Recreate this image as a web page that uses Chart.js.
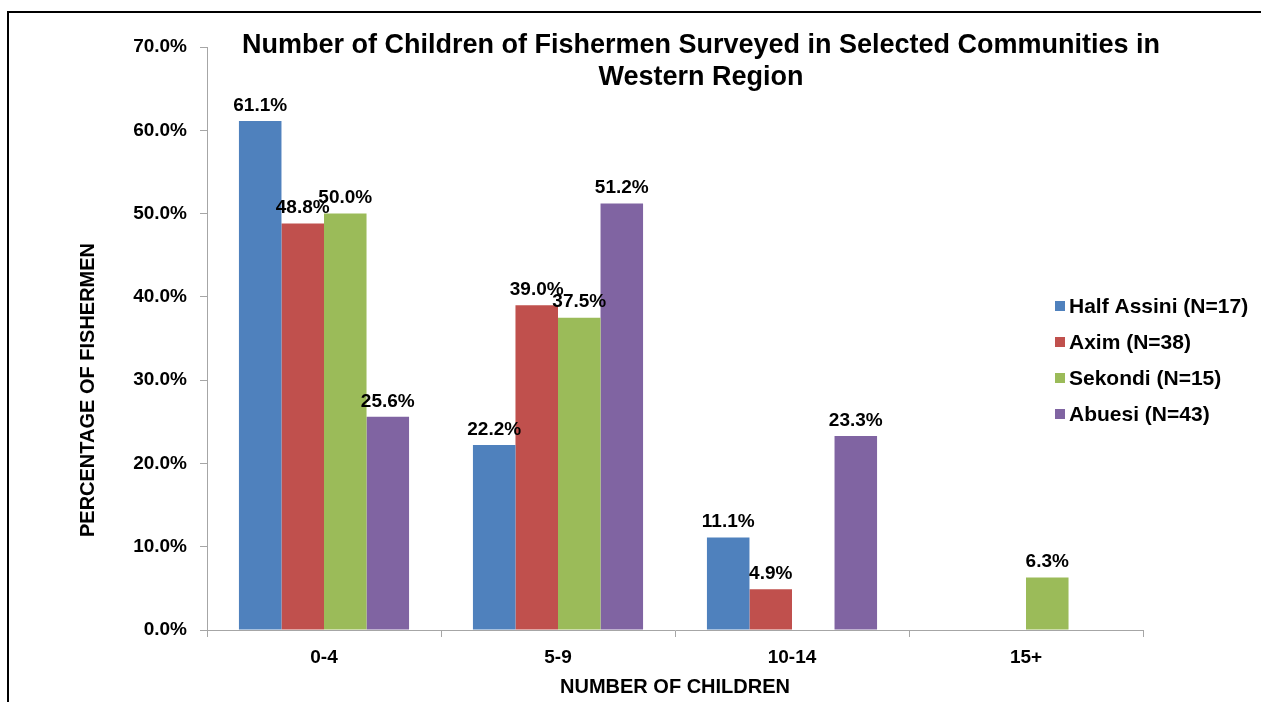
<!DOCTYPE html>
<html>
<head>
<meta charset="utf-8">
<script src="https://cdn.jsdelivr.net/npm/chart.js@4.4.1/dist/chart.umd.min.js"></script>
<style>
  html, body { margin: 0; padding: 0; background: #fff; }
  #wrap { position: relative; width: 1261px; height: 702px; }
</style>
</head>
<body>
<div id="wrap"><canvas id="grafica"></canvas></div>
<script>
const categorias = ["0-4", "5-9", "10-14", "15+"];
const halfAssini = [61.1, 22.2, 11.1, null];
const axim = [48.8, 39.0, 4.9, null];
const sekondi = [50.0, 37.5, null, 6.3];
const abuesi = [25.6, 51.2, 23.3, null];
const series = ["Half Assini (N=17)", "Axim (N=38)", "Sekondi (N=15)", "Abuesi (N=43)"];
const colores = ["#4F81BD", "#C0504D", "#9BBB59", "#8064A2"];
const titulo = ["Number of Children of Fishermen Surveyed in Selected Communities in", "Western Region"];

const FAMILIA = '"Liberation Sans", Arial, sans-serif';

// marco, titulo, leyenda y etiquetas de datos
const extras = {
  id: "extras",
  beforeDraw(chart) {
    const ctx = chart.ctx;
    ctx.save();
    ctx.fillStyle = "#fff";
    ctx.fillRect(0, 0, chart.width, chart.height);
    ctx.strokeStyle = "#000";
    ctx.lineWidth = 2;
    ctx.beginPath();
    ctx.moveTo(8, 702);
    ctx.lineTo(8, 12);
    ctx.lineTo(1261, 12);
    ctx.stroke();
    ctx.restore();
  },
  afterDraw(chart) {
    const ctx = chart.ctx;
    ctx.save();
    ctx.fillStyle = "#000";
    ctx.textAlign = "center";
    ctx.textBaseline = "middle";
    ctx.font = "bold 27px " + FAMILIA;
    ctx.fillText(titulo[0], 701, 46);
    ctx.fillText(titulo[1], 701, 78);

    // titulo eje y
    ctx.font = "bold 20px " + FAMILIA;
    ctx.translate(88, 390);
    ctx.rotate(-Math.PI / 2);
    ctx.fillText("PERCENTAGE OF FISHERMEN", 0, 0);
    ctx.restore();

    // leyenda
    ctx.save();
    ctx.font = "bold 21px " + FAMILIA;
    ctx.textAlign = "left";
    ctx.textBaseline = "middle";
    series.forEach((s, i) => {
      const y = 306 + i * 36;
      ctx.fillStyle = colores[i];
      ctx.fillRect(1055, y - 5, 10, 10);
      ctx.fillStyle = "#000";
      ctx.fillText(s, 1069, y + 1);
    });
    ctx.restore();
  },
  afterDatasetsDraw(chart) {
    const ctx = chart.ctx;
    ctx.save();
    ctx.font = "bold 19px " + FAMILIA;
    ctx.fillStyle = "#000";
    ctx.textAlign = "center";
    ctx.textBaseline = "bottom";
    chart.data.datasets.forEach((ds, i) => {
      const meta = chart.getDatasetMeta(i);
      meta.data.forEach((bar, j) => {
        const v = ds.data[j];
        if (v === null) return;
        ctx.fillText(v.toFixed(1) + "%", bar.x, bar.y - 6);
      });
    });
    ctx.restore();
  }
};

new Chart("grafica", {
  type: "bar",
  data: {
    labels: categorias,
    datasets: [halfAssini, axim, sekondi, abuesi].map((d, i) => ({
      label: series[i],
      data: d,
      backgroundColor: colores[i],
      borderWidth: 0,
      categoryPercentage: 0.727,
      barPercentage: 1
    }))
  },
  options: {
    responsive: true,
    maintainAspectRatio: false,
    animation: false,
    layout: { padding: { left: 0, top: 47, right: 118, bottom: 0 } },
    plugins: {
      legend: { display: false },
      title: { display: false },
      tooltip: { enabled: false }
    },
    scales: {
      x: {
        afterFit(scale) { scale.height = 72; },
        grid: { offset: true, drawOnChartArea: false, tickLength: 7, color: "#a6a6a6" },
        border: { color: "#a6a6a6" },
        ticks: { color: "#000", padding: 9, font: { family: FAMILIA, size: 19, weight: "bold" } },
        title: {
          display: true,
          text: "NUMBER OF CHILDREN",
          color: "#000",
          padding: { top: 4, bottom: 3 },
          font: { family: FAMILIA, size: 20, weight: "bold" }
        }
      },
      y: {
        min: 0,
        max: 70,
        afterFit(scale) { scale.width = 207; },
        grid: { drawOnChartArea: false, tickLength: 7, color: "#a6a6a6" },
        border: { color: "#a6a6a6" },
        ticks: {
          stepSize: 10,
          color: "#000",
          padding: 13,
          font: { family: FAMILIA, size: 19, weight: "bold" },
          callback: v => v.toFixed(1) + "%"
        }
      }
    }
  },
  plugins: [extras]
});
</script>
</body>
</html>
